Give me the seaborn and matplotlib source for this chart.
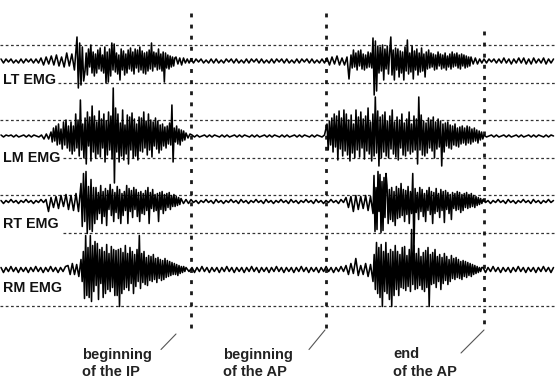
import numpy as np
import pandas as pd
import matplotlib
matplotlib.use("Agg")
import matplotlib.pyplot as plt
import seaborn as sns

# ---------------- data: signal deflections (px), per time segment ----
channels = ["LT EMG", "LM EMG", "RT EMG", "RM EMG"]

lt_emg = [
    [2,-2,2,-1,2,-2,1,-2,2,-2,2,-1,2,-2,2,-2],
    [3,-4,4,-3,5,-4,6,-5,4,-6,8,-5,7,-9],
    [24,-27,18,-24,14,-20],
    [-10,8,-14,12,-6,16,-12,9,-15,7, -12,11,-8,13,-10,6,-12,14,-22,9,
     -21,12,-15,18,-9,17,-11,8,-13,6, -19,12,-9,10,-14,7,-12,11,-8,13,
     -10,9,-13,12,-7,11,-11,14,-9,10, -12,8,-13,9,-10,11,-8,18,-10,9,
     -6,8,-9,12,-8,7,-10,9,-21,8, -7,6,-8,5,-6,4,-5,3],
    [4,-3,3,-4,3,-2,2,-2],
    [2,-2,2,-1,2,-2,1,-2,2,-2, 2,-2,1,-2,2,-1,2,-2,2,-2, 1,-2,2,-2,2,-1,2,-2,2,-2,
     1,-2,2,-2,2,-1,2,-2,2,-2, 1,-2,2,-2,2,-1,2,-2,2,-2, 1,-2,2,-2],
    [3,-4,4,-3,5,-4,3,-4],
    [4,-18],
    [6,-7,11,-6,8,-9,10,-5,11,-8,7,-9,6,-7,9,-6,8,-7],
    [23,-34,20,-30,15],
    [-12,14,-10,16,-19,12,-8,15,-13,9, 24,-14,11,-19,13,-9,12,-16,10,-12,
     9,-19,14,-10,21,-13,8,-11,15,-18, 10,-9,12,-14,8,-11,13,-10,7,-16, 9,-8,11,-7],
    [8,-6,7,-9,6,-8,9,-5,7,-8,6,-7,8,-9,5,-6,7,-8,9,-6,7,-5,8,-7,6,-8,7,-5,6,-7,5,-6,4,-5],
    [4,-3,3,-3,2,-2],
    [2,-2,2,-1,2,-2,2,-2,3,-2,2,-3,2,-2,3,-2,3,-3,2,-3,3,-2,2,-2,3,-3,2,-2,2],
]

lm_emg = [
    [1,-1,1,0,1,-1,1,-1,0,1,-1,1,-1,1,0,-1,1],
    [-3,2,-3],
    [4,-6,8,-5,10,-9,12,-8,7,-13,14,-9,16,-12,10,-15],
    [14,-18,10,-15,22,-12,16,-20,36,-14, 12,-22,18,-28,24,-10,19,-25,30,-16,
     20,-22,14,-18,25,-21,17,-12,22,-26, 15,-19,24,-14,20,-23,48,-47,28,-16,
     22,-26,13,-20,26,-24,11,-18,21,-28, 19,-14,23,-22,17,-20,12,-24,19,-15,
     18,-16,24,-12,15,-19,22,-14,16,-21, 14,-10,18,-13,15,-17,11,-14,12,-10,
     9,-12,10,-8,13,-9,31,-26,8,-6, 10,-8,7,-9,6,-5,5,-4],
    [3,-2,2],
    [1,-1,1,-1,0,1,-1,1,-1,1, 0,-1,1,-1,1,-1,0,1,-1,1, -1,1,0,-1,1,-1,1,-1,0,1,
     -1,1,-1,1,0,-1,1,-1,1,-1, 0,1,-1,1,-1,1,0,-1,1,-1, 1,0,-1,1],
    [12,-14,15,-9,18,-16,22,-11,20,-24, 25,-13,18,-20,26,-15,22,-19,16,-25,
     21,-17,12,-22,26,-14,19,-21,24,-12, 17,-23,20,-15,28,-18,14,-25,22,-20,
     39,-17,25,-30,19,-22,21,-16,24,-20, 15,-22,20,-13,26,-18,14,-21,19,-24,
     16,-12,22,-19,13,-20,17,-15,24,-18, 12,-16,20,-14,17,-28,39,-14,21,-19,
     15,-20,13,-17,18,-12,16,-15,19,-22, 14,-13,17,-11,15,-30,12,-16,13,-10,
     14,-12,11,-13,10,-9,12,-10,8,-11, 9,-8,10,-7,8,-9,10,-7,9,-8,
     7,-6,8,-5,6,-7,5,-4,4,-3],
    [1,-1,0,1,-1,1,-1,0,1,-1, 1,-1,0,1,-1,1,-1,0,1,-1, 1,-1,1,0,-1,1,-1,1,0],
]

rt_emg = [
    [1,-2,1,-1,2,-1,1,-2,1,-1,2,-1,1,-2,1,-1,2,-1],
    [2,-10],
    [4,-6,5,-7,6,-5,7,-8,6,-9,8,-10],
    [18,-25,28,-20,30,-32,15,-28,22,-30,14,-22],
    [14,-18,9,-12,16,-22,10,-15,13,-24, 11,-8,17,-14,12,-20,9,-11,15,-17,
     12,-22,8,-14,10,-9,16,-22,13,-10, 11,-16,14,-8,12,-15,9,-20,10,-12,
     8,-13,11,-9,14,-22,9,-7,12,-10, 7,-9,8,-20,9,-8,10,-12,7,-9,
     8,-6,9,-8,6,-5,7,-5,5,-4,4,-3],
    [3,-2,2,-2],
    [2,-1,1,-2,1,-1,2,-1,1,-2, 2,-1,1,-2,1,-1,2,-1,1,-2, 2,-1,1,-2,1,-1,2,-1,1,-2,
     2,-1,1,-2,1,-1,2,-1,1,-2, 2,-1,1,-2,1,-1,2,-1,1,-2, 2,-1,1,-2,1,-1,2,-1,1,-2, 2,-1],
    [4,-6,5,-10,6,-8,5,-7,6,-9,5],
    [-12,26,-30,14,-28,30,-10,27,-31,20,-29,24,-16,28],
    [16,-22,12,-18,14,-20,10,-24,15,-17, 13,-16,18,-14,12,-20,11,-13,15,-22,
     10,-12,28,-50,13,-11,9,-18,14,-10, 12,-15,8,-20,11,-9,14,-13,10,-22,
     9,-12,13,-10,8,-16,12,-9,10,-21, 11,-8,9,-12,7,-18,9,-7,8,-9,
     10,-8,9,-11,7,-9,8,-6,9,-7, 7,-6,8,-5,6,-6,5,-4,4,-3,3,-2],
    [2,-1,1,-2,1,-1,2,-1,1,-2, 2,-1,1,-2,1,-1,2,-1,1,-2, 2,-1,1,-2,1,-1,2,-1,1],
]

rm_emg = [
    [2,-3,2,-2,3,-2,2,-3,2,-2, 2,-3,2,-2,3,-2,2,-3,2,-2, 3,-2,2,-3,2,-2,3],
    [4,-5,6,-5,5,-7],
    [10,-12,18,-29,34,-26,22,-28,34,-32, 24,-22,28,-16,26,-30,20,-14,22,-28,
     18,-24,25,-20,16,-22,23,-18,20,-26, 19,-26,20,-37,21,-24,17,-20,24,-18,
     16,-21,22,-14,18,-24,15,-17,20,-12, 34,-19,16,-13,18,-15,12,-16,14,-11,
     13,-12,15,-10,11,-13,12,-9,10,-11, 9,-10,11,-8,9,-7,8,-6,7,-5,
     6,-5,5,-6,4,-4,3,-3,3,-2],
    [2,-2],
    [2,-3,2,-2,3,-2,2,-3,2,-2, 2,-3,2,-2,3,-2,2,-3,2,-2, 2,-3,2,-2,3,-2,2,-3,2,-2,
     2,-3,2,-2,3,-2,2,-3,2,-2, 2,-3,2,-2,3,-2,2,-3,2,-2, 2,-3,2,-2,3,-2,2,-3,2,-2, 3,-2],
    [4,-5,6,-4,11,-6,4,-5,6,-7,5],
    [-12,15,-20,27,-24,22,-28,25,-37,18, -22,27,-24,16,-30,20,-37,18,-26,24,
     -20,18,-26,15,-18,22,-19,23,-21,14, -17,20,-22,40,-15,24,-20,16,-19,21,
     -16,13,-20,17,-22,19,-18,22,-37,15, -15,17,-14,20,-18,13,-12,15,-20,12,
     -14,16,-11,13,-15,10,-12,14,-9,11, -10,12,-8,10,-9,8,-10,9,-7,8,
     -8,7,-6,6,-7,5,-5,4,-4,3,-3,2,-2,2],
    [2,-3,2,-2,3,-2,2,-3,2,-2, 2,-3,2,-2,3,-2,2,-3,2,-2, 2,-3,2,-2,3,-2,2,-3,2],
]

signals = [lt_emg, lm_emg, rt_emg, rm_emg]
event_labels = ["beginning\nof the IP", "beginning\nof the AP", "end\nof the AP"]

# ---------------- layout (pixel coordinates) ----------------
W, H = 555, 378
baselines = [61, 136, 201.5, 269.5]
# time-axis boundaries (px) of the segments above
seg_bounds = [
    [0, 40, 76, 84, 175, 190, 326, 346, 350, 372, 378, 430, 470, 483, 555],
    [0, 43, 50, 70, 185, 191, 326, 483, 555],
    [0, 45, 50, 80, 95, 180, 190, 345, 372, 386, 482, 555],
    [0, 67, 80, 185, 191, 345, 372, 482, 555],
]
label_y = [79.5, 157.5, 224.5, 288]
hlines = [(45, 0), (83, 58), (120, 0), (158, 63), (195, 0), (233, 63), (306, 0)]
vlines = [(191, 12.5, 331), (326, 12.5, 331), (484, 31, 331)]
leaders = [((161, 349.5), (176, 334)), ((309, 349.5), (325, 330)), ((461, 353), (484, 330))]
text_pos = [(82, 347.5), (223, 347.5), (393, 347.5)]

sns.set_style("white")
plt.rcParams["font.family"] = ["Liberation Sans", "DejaVu Sans"]

fig = plt.figure(figsize=(W / 100, H / 100), dpi=100)
ax = fig.add_axes([0, 0, 1, 1])

for y, x0 in hlines:
    ax.plot([x0, W], [y, y], color="#333333", lw=0.9, ls=(0, (2.2, 2.0)), zorder=1)

for x, y0, y1 in vlines:
    ax.plot([x, x], [y0, y1], color="#1a1a1a", lw=2.0, ls=(0, (1.4, 2.6)), zorder=1)

frames = []
for name, segs, bounds, base in zip(channels, signals, seg_bounds, baselines):
    ts, ys = [], []
    for k, seg in enumerate(segs):
        v = np.asarray(seg, dtype=float)
        ts.append(np.linspace(bounds[k], bounds[k + 1], len(v), endpoint=False) + 1)
        ys.append(base - v)
    frames.append(pd.DataFrame({"t": np.concatenate(ts), "y": np.concatenate(ys),
                                "channel": name}))
df = pd.concat(frames, ignore_index=True)

for name in channels:
    sub = df[df["channel"] == name]
    sns.lineplot(data=sub, x="t", y="y", ax=ax, color="black", lw=1.15,
                 estimator=None, sort=False, legend=False, zorder=3)

ax.set_xlim(0, W)
ax.set_ylim(H, 0)
ax.axis("off")

for name, y in zip(channels, label_y):
    ax.text(3, y, name, fontsize=10.3, fontweight="bold", color="#111111",
            ha="left", va="center", zorder=4)

for (p0, p1) in leaders:
    ax.plot([p0[0], p1[0]], [p0[1], p1[1]], color="#555555", lw=0.8, zorder=2)

for lab, (x, y) in zip(event_labels, text_pos):
    ax.text(x, y, lab, fontsize=10.5, fontweight="bold", color="#222222",
            ha="left", va="top", linespacing=1.3)

fig.savefig("out.png", dpi=100)
